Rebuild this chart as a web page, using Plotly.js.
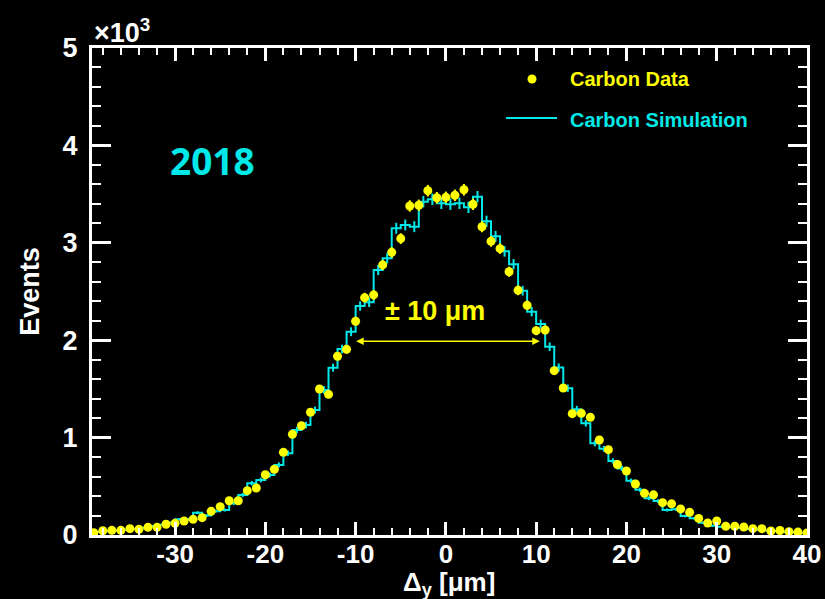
<!DOCTYPE html>
<html><head><meta charset="utf-8">
<script src="https://cdn.plot.ly/plotly-3.0.1.min.js"></script>
<style>body{margin:0;background:#000}</style>
</head><body><div id="chart" style="width:825px;height:599px"></div>
<script>
// Carbon data: bin centres (µm) and event counts
const dataX = [-39,-38,-37,-36,-35,-34,-33,-32,-31,-30,
  -29,-28,-27,-26,-25,-24,-23,-22,-21,-20,
  -19,-18,-17,-16,-15,-14,-13,-12,-11,-10,
  -9,-8,-7,-6,-5,-4,-3,-2,-1,0,
  1,2,3,4,5,6,7,8,9,10,
  11,12,13,14,15,16,17,18,19,20,
  21,22,23,24,25,26,27,28,29,30,
  31,32,33,34,35,36,37,38,39,40];
const dataY = [24,44,48,48,65,58,79,79,110,120,
  144,161,178,243,291,352,352,455,483,619,
  675,849,1034,1122,1260,1499,1444,1835,1906,2194,
  2437,2465,2773,2902,3043,3378,3385,3535,3463,3467,
  3488,3545,3395,3165,3015,2940,2703,2512,2358,2098,
  2105,1687,1509,1246,1249,1208,975,876,724,657,
  524,428,412,332,320,268,233,170,123,144,
  90,90,82,65,65,41,46,34,30,20];
// Carbon simulation: bin centres (µm) and counts
const simX = [-39.5,-38.5,-37.5,-36.5,-35.5,-34.5,-33.5,-32.5,-31.5,-30.5,
  -29.5,-28.5,-27.5,-26.5,-25.5,-24.5,-23.5,-22.5,-21.5,-20.5,
  -19.5,-18.5,-17.5,-16.5,-15.5,-14.5,-13.5,-12.5,-11.5,-10.5,
  -9.5,-8.5,-7.5,-6.5,-5.5,-4.5,-3.5,-2.5,-1.5,-0.5,
  0.5,1.5,2.5,3.5,4.5,5.5,6.5,7.5,8.5,9.5,
  10.5,11.5,12.5,13.5,14.5,15.5,16.5,17.5,18.5,19.5,
  20.5,21.5,22.5,23.5,24.5,25.5,26.5,27.5,28.5,29.5,
  30.5,31.5,32.5,33.5,34.5,35.5,36.5,37.5,38.5,39.5];
const simY = [20,30,38,45,55,62,75,90,105,125,
  162,162,229,200,245,257,325,411,531,565,
  616,719,839,1078,1129,1283,1489,1718,1910,2087,
  2351,2390,2721,2841,3149,3183,3166,3422,3446,3405,
  3395,3405,3364,3473,3222,3066,2912,2780,2508,2293,
  2166,1933,1720,1506,1290,1147,941,885,760,684,
  556,465,377,349,257,264,195,171,126,96,
  85,80,72,62,55,45,40,32,28,22];
const xTicks = [-30,-20,-10,0,10,20,30,40];
const xTickText = ['-30','-20','-10','0','10','20','30','40'];
const yTicks = [0,1000,2000,3000,4000,5000];
const yTickText = ['0','1','2','3','4','5'];

const CYAN = '#00e8e8', YEL = '#ffff00';
const FONT = 'Liberation Sans, Arial, Helvetica, sans-serif';

const traces = [
  {x: simX, y: simY, type:'scatter', mode:'lines', name:'Carbon Simulation',
   line:{color:CYAN, width:2, shape:'hvh'},
   error_y:{type:'sqrt', color:CYAN, thickness:2, width:0}},
  {x: dataX, y: dataY, type:'scatter', mode:'markers', name:'Carbon Data',
   marker:{color:YEL, size:9},
   error_y:{type:'sqrt', color:YEL, thickness:2, width:0}}
];

const px = v => (v-92)/715, py = v => (535-v)/487;

const layout = {
  width:825, height:599,
  paper_bgcolor:'#000', plot_bgcolor:'#000',
  margin:{l:92, r:18, t:48, b:64},
  showlegend:false,
  font:{family:FONT, color:'#fff'},
  xaxis:{range:[-39.2,40.001], tickvals:xTicks, ticktext:xTickText, ticks:'inside', ticklen:13, tickwidth:3,
    tickcolor:'#fff', showline:true, linecolor:'#fff', linewidth:3, mirror:'ticks',
    showgrid:false, zeroline:false, ticklabelstandoff:-6,
    minor:{dtick:2, tick0:0, ticks:'inside', ticklen:7, tickwidth:2, tickcolor:'#fff', showgrid:false},
    tickfont:{family:FONT, size:26, color:'#fff', weight:'bold'}},
  yaxis:{range:[0,5000], tickvals:yTicks, ticktext:yTickText, ticks:'inside', ticklen:19, tickwidth:3,
    tickcolor:'#fff', showline:true, linecolor:'#fff', linewidth:3, mirror:'ticks',
    showgrid:false, zeroline:false, ticklabelstandoff:6,
    minor:{dtick:200, tick0:0, ticks:'inside', ticklen:9, tickwidth:2, tickcolor:'#fff', showgrid:false},
    tickfont:{family:FONT, size:27, color:'#fff', weight:'bold'},
    title:{text:'Events', font:{family:FONT, size:27, color:'#fff', weight:'bold'}, standoff:16}},
  annotations:[
    {xref:'paper', yref:'paper', x:px(449), y:py(583), xanchor:'center', yanchor:'middle', showarrow:false,
     text:'Δ<sub>y</sub> [μm]', font:{family:FONT, size:26, color:'#fff', weight:'bold'}},
    {xref:'paper', yref:'paper', x:0, y:1, xanchor:'left', yanchor:'bottom', yshift:-2, showarrow:false,
     text:'×10<sup>3</sup>', font:{family:FONT, size:27, color:'#fff', weight:'bold'}},
    {xref:'paper', yref:'paper', x:px(568), y:py(79), xanchor:'left', yanchor:'middle', showarrow:false,
     text:'Carbon Data', font:{family:FONT, size:20, color:YEL, weight:'bold'}},
    {xref:'paper', yref:'paper', x:px(568), y:py(120), xanchor:'left', yanchor:'middle', showarrow:false,
     text:'Carbon Simulation', font:{family:FONT, size:20, color:CYAN, weight:'bold'}},
    {xref:'paper', yref:'paper', x:px(212), y:py(160), xanchor:'center', yanchor:'middle', showarrow:false,
     text:'2018', font:{family:'Open Sans, sans-serif', size:37, color:CYAN, weight:'bold'}},
    {xref:'x', yref:'y', x:-1.2, y:2300, xanchor:'center', yanchor:'middle', showarrow:false,
     text:'± 10 μm', font:{family:FONT, size:27, color:YEL, weight:'bold'}},
    {xref:'x', yref:'y', axref:'x', ayref:'y', x:10.4, y:1990, ax:-10.1, ay:1990, text:'',
     showarrow:true, arrowside:'end+start', arrowhead:2, arrowsize:1, arrowwidth:1.5, arrowcolor:YEL}
  ],
  shapes:[
    {type:'circle', xref:'paper', yref:'paper', xsizemode:'pixel', ysizemode:'pixel',
     xanchor:px(532), yanchor:py(79), x0:-4.5, x1:4.5, y0:-4.5, y1:4.5,
     fillcolor:YEL, line:{width:0}},
    {type:'line', xref:'paper', yref:'paper', x0:px(506), x1:px(557), y0:py(118), y1:py(118),
     line:{color:CYAN, width:2}}
  ]
};
Plotly.newPlot('chart', traces, layout, {displayModeBar:false, staticPlot:true});
</script></body></html>
